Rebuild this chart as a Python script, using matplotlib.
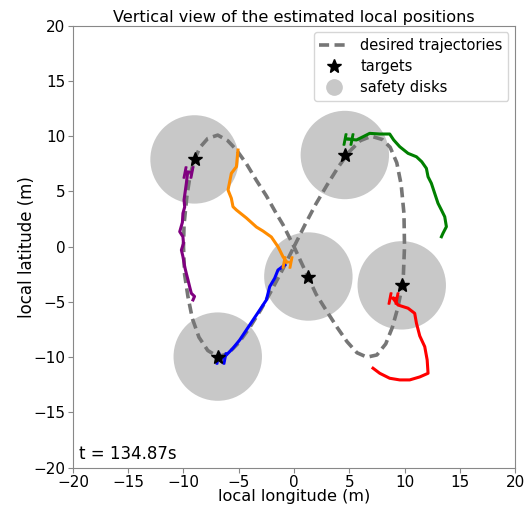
import matplotlib
matplotlib.use("Agg")
import matplotlib.pyplot as plt
from matplotlib.patches import Circle
from matplotlib.lines import Line2D

# desired trajectory
des_x = [0.0, 1.0, 2.0, 3.0, 4.0, 5.0, 6.0, 7.0, 8.0, 8.7, 9.3, 9.7, 9.95, 10.0, 9.9, 9.8, 9.4, 8.9, 8.3, 7.5,
         6.6, 5.7, 4.8, 3.9, 3.0, 2.0, 1.3, 0.6, 0.0, -1.0, -1.6, -2.5, -3.4, -4.3, -5.2, -6.0, -6.9, -7.8, -8.5,
         -9.0, -9.4, -9.7, -9.95, -10.0, -9.9, -9.6, -9.2, -8.6, -7.8, -6.9, -6.0, -5.0, -4.0, -3.0, -2.0, -1.0, 0.0]
des_y = [0.0, 2.0, 3.9, 5.6, 7.2, 8.6, 9.6, 10.0, 9.7, 9.0, 7.6, 5.6, 3.0, 0.0, -2.5, -3.5, -5.5, -7.3, -8.8, -9.8,
         -10.0, -9.6, -8.6, -7.3, -5.9, -4.3, -2.8, -1.3, 0.0, 2.0, 3.0, 4.6, 6.0, 7.5, 8.75, 9.6, 10.1, 9.8, 9.0,
         7.9, 6.5, 4.5, 2.0, 0.0, -2.5, -4.5, -6.5, -8.2, -9.4, -9.95, -9.7, -8.7, -7.3, -5.7, -3.9, -2.0, 0.0]

# targets / safety disk centres
target_x = [-9.0, 4.6, 1.3, 9.75, -6.9]
target_y = [7.9, 8.3, -2.7, -3.5, -9.95]
disk_radius = 4.0

# estimated trajectories
purple_x = [-9.14, -9.0, -9.29, -9.45, -9.59, -9.75, -9.89, -10.05, -10.19, -10.0, -10.05, -10.34, -10.1, -10.05, -9.89, -9.95, -9.74, -9.62]
purple_y = [-4.82, -4.5, -4.22, -3.6, -3.02, -2.4, -1.81, -0.9, -0.3, 0.3, 0.9, 1.36, 2.2, 3.02, 3.6, 4.23, 5.74, 6.76]

orange_x = [-5.07, -5.21, -5.67, -5.82, -5.97, -5.67, -5.52, -5.21, -4.31, -3.40, -2.81, -2.05, -1.45, -1.0, -0.66]
orange_y = [8.75, 7.24, 6.64, 5.88, 5.13, 4.38, 3.62, 3.32, 2.6, 1.78, 1.42, 0.88, 0.0, -0.9, -1.38]

blue_x = [-0.84, -1.45, -1.75, -2.2, -2.5, -3.1, -3.71, -4.31, -4.91, -5.52, -6.12, -6.57]
blue_y = [-1.66, -2.11, -2.86, -3.62, -4.82, -5.73, -6.64, -7.54, -8.44, -9.19, -9.8, -10.1]

green_x = [13.34, 13.48, 13.79, 13.64, 13.34, 13.03, 12.73, 12.43, 12.13, 11.98, 11.56, 11.08, 10.32, 9.57, 9.02,
           8.66, 7.76, 6.85, 6.24, 5.65, 4.89]
green_y = [0.9, 1.21, 1.81, 2.71, 3.32, 3.93, 4.83, 5.74, 6.33, 7.09, 7.69, 8.14, 8.45, 9.05, 9.66,
           10.2, 10.2, 10.26, 9.95, 9.66, 9.75]

red_x = [7.15, 7.76, 8.66, 9.57, 10.47, 11.38, 12.13, 12.05, 11.83, 11.38, 11.08, 10.92, 10.32, 9.41, 8.96]
red_y = [-11.0, -11.46, -11.91, -12.06, -12.06, -11.79, -11.46, -10.25, -9.05, -8.08, -6.93, -6.03, -5.57, -5.28, -4.67]

time_label = "t = 134.87s"

fig = plt.figure(figsize=(5.25, 5.05), dpi=100)
ax = fig.add_axes([0.139, 0.074, 0.842, 0.875])

for cx, cy in zip(target_x, target_y):
    ax.add_patch(Circle((cx, cy), disk_radius, facecolor="#c8c8c8", edgecolor="none", zorder=1))

ax.plot(des_x, des_y, color="#767676", lw=2.6, dashes=(2.8, 1.5), zorder=2)

tracks = [(purple_x, purple_y, "purple"), (orange_x, orange_y, "darkorange"),
          (blue_x, blue_y, "blue"), (green_x, green_y, "green"), (red_x, red_y, "red")]
for tx, ty, c in tracks:
    ax.plot(tx, ty, color=c, lw=2.2, zorder=3)
    ax.plot(tx[-1], ty[-1], marker="$H$", color=c, markersize=8, zorder=4)

ax.plot(target_x, target_y, linestyle="none", marker="*", color="black", markersize=10, zorder=5)

ax.set_xlim(-20, 20)
ax.set_ylim(-20, 20)
ax.set_xticks(range(-20, 21, 5))
ax.set_yticks(range(-20, 21, 5))
ax.tick_params(labelsize=11, color="#888888", pad=2)
for s in ax.spines.values():
    s.set_color("#888888")
ax.set_xlabel("local longitude (m)", fontsize=11.6, labelpad=-1)
ax.set_ylabel("local latitude (m)", fontsize=12, labelpad=-2)
ax.set_title("Vertical view of the estimated local positions", fontsize=11.6, pad=3)

ax.text(-19.5, -19.6, time_label, fontsize=12, ha="left", va="bottom")

handles = [Line2D([], [], color="#767676", lw=2.6, dashes=(2.8, 1.5)),
           Line2D([], [], linestyle="none", marker="*", color="black", markersize=10),
           Line2D([], [], linestyle="none", marker="o", color="#c8c8c8", markersize=11)]
ax.legend(handles, ["desired trajectories", "targets", "safety disks"], loc="upper right",
          fontsize=10.5, borderaxespad=0.45, labelspacing=0.4)

fig.savefig("out.png", dpi=100)
